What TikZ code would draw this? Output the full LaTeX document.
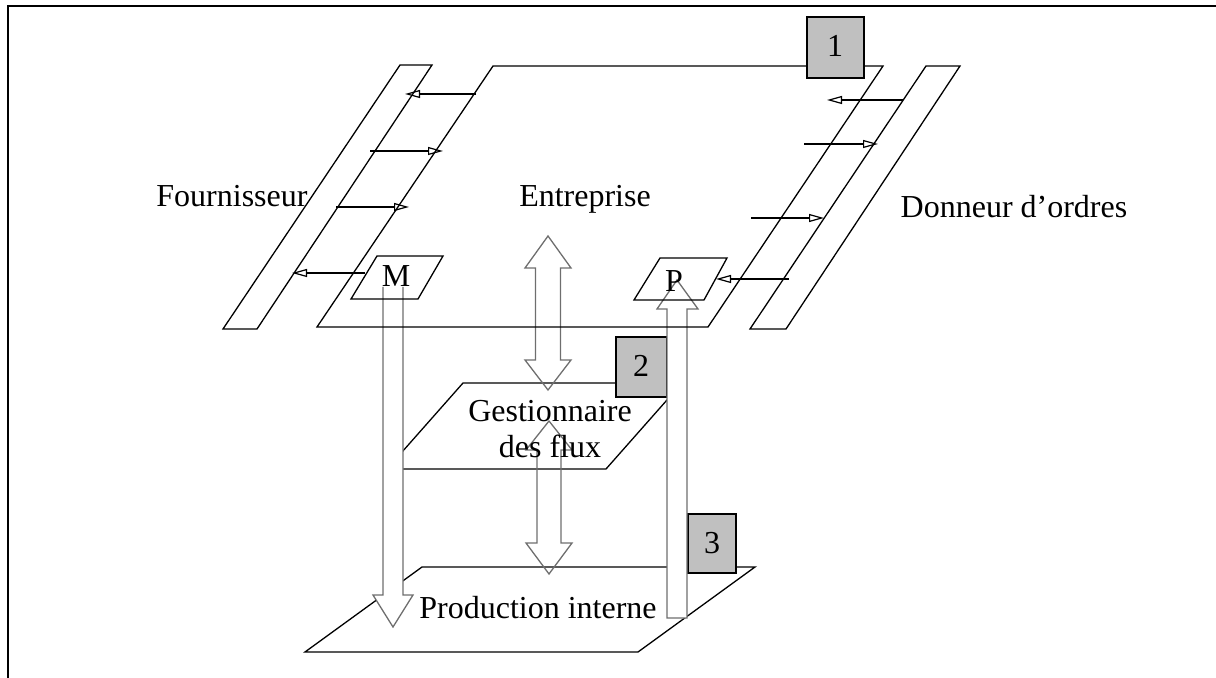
\documentclass[tikz,border=0pt]{standalone}
\usepackage{fontspec}
\setmainfont{Liberation Serif}
\usetikzlibrary{arrows.meta}
\definecolor{boxgray}{RGB}{192,192,192}
\definecolor{arrowgray}{RGB}{110,110,110}
\tikzset{
  plane/.style={draw=black,line width=0.65pt,line join=miter},
  numbox/.style={draw=black,fill=boxgray,line width=0.65pt},
  hollow/.style={draw=arrowgray,line width=0.65pt,line join=miter},
  flow/.style={draw=black,line width=1pt,-{Triangle[open,length=7.5pt,width=4pt,line width=0.6pt]}},
  lbl/.style={inner sep=0pt,anchor=base,font=\fontsize{16}{19}\selectfont},
}
\begin{document}
\begin{tikzpicture}[x=0.5pt,y=-0.5pt]
\useasboundingbox (0,0) rectangle (1216,678);
% frame
\draw[line width=0.65pt] (8,678) -- (8,6) -- (1216,6);

% lower planes
\draw[plane] (422,567) -- (755,567) -- (638,652) -- (305,652) -- cycle; % production
\draw[plane] (463,383) -- (682,383) -- (606,469) -- (387,469) -- cycle; % gestionnaire

% numbered boxes 2 and 3
\draw[numbox] (616,337) rectangle (667,397);
\node[lbl] (n2) at (641,377) {2};
\draw[numbox] (688,514) rectangle (736,573);
\node[lbl] (n3) at (712,553) {3};

% double arrows (outline only)
\draw[hollow] (548,236) -- (571,268) -- (560.5,268) -- (560.5,360) -- (571,360) -- (548,390)
  -- (525,360) -- (535.5,360) -- (535.5,268) -- (525,268) -- cycle;
\draw[hollow] (549,421) -- (572,450) -- (561,450) -- (561,543) -- (572,543) -- (549,574)
  -- (526,543) -- (537,543) -- (537,450) -- (526,450) -- cycle;

% M down arrow (filled white, open top)
\fill[white] (383,287) -- (383,595) -- (373,595) -- (393,627) -- (413,595) -- (403,595) -- (403,287) -- cycle;
\draw[hollow] (383,287) -- (383,595) -- (373,595) -- (393,627) -- (413,595) -- (403,595) -- (403,287);
% P up arrow
\draw[hollow,fill=white] (667,618) -- (667,309) -- (657,309) -- (677,280) -- (698,309) -- (687,309) -- (687,618) -- cycle;

% top plane and strips
\draw[plane] (493,66) -- (883,66) -- (708,327) -- (317,327) -- cycle; % entreprise
\draw[plane] (400,65) -- (432,65) -- (257,329) -- (223,329) -- cycle; % fournisseur strip
\draw[plane] (926,66) -- (960,66) -- (786,329) -- (750,329) -- cycle; % donneur strip
\draw[plane] (377,256) -- (443,256) -- (418,299) -- (351,299) -- cycle; % M
\draw[plane] (660,258) -- (727,258) -- (704,300) -- (634,300) -- cycle; % P

% box 1
\draw[numbox] (807,17) rectangle (864,78);
\node[lbl] (n1) at (835,57) {1};

% small arrows, left
\draw[flow] (476,94) -- (405,94);
\draw[flow] (370,151) -- (443,151);
\draw[flow] (336,207) -- (409,207);
\draw[flow] (365,273) -- (292,273);
% small arrows, right
\draw[flow] (903,100) -- (827,100);
\draw[flow] (804,144) -- (878,144);
\draw[flow] (751,218) -- (824,218);
\draw[flow] (789,279) -- (716,279);

% labels
\node[lbl] (four) at (232,207) {Fournisseur};
\node[lbl] (entr) at (585,207) {Entreprise};
\node[lbl] (donn) at (1014,218) {Donneur d’ordres};
\node[lbl] (m) at (396,287) {M};
\node[lbl] (p) at (674,292) {P};
\node[lbl] (gest) at (550,422) {Gestionnaire};
\node[lbl] (flux) at (550,458) {des flux};
\node[lbl] (prod) at (538,618) {Production interne};
\end{tikzpicture}
\end{document}
